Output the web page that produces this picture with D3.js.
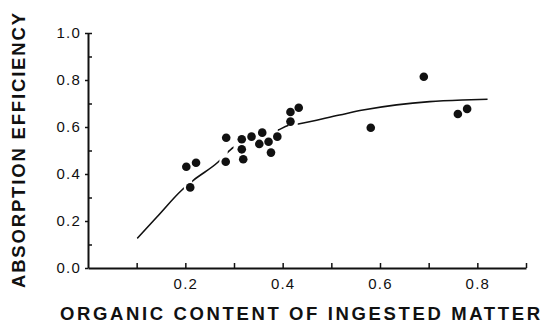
<!DOCTYPE html>
<html>
<head>
<meta charset="utf-8">
<script src="https://cdn.jsdelivr.net/npm/d3@7"></script>
<style>
  body { margin: 0; background: #fff; }
  svg text { font-family: "Liberation Sans", Arial, sans-serif; fill: #111; }
</style>
</head>
<body>
<div id="chart"></div>
<script>
// measured points (organic content, absorption efficiency)
const organic = [0.202, 0.222, 0.210, 0.284, 0.283, 0.316, 0.316, 0.319, 0.336, 0.352, 0.358,
                 0.371, 0.376, 0.389, 0.416, 0.433, 0.416, 0.581, 0.690, 0.760, 0.779]
const efficiency = [0.431, 0.448, 0.343, 0.554, 0.452, 0.548, 0.505, 0.463, 0.559, 0.528, 0.576,
                    0.537, 0.491, 0.559, 0.664, 0.682, 0.623, 0.597, 0.814, 0.655, 0.677]

// fitted curve
const curve_x = [0.101, 0.142, 0.193, 0.217, 0.268, 0.292, 0.391, 0.411, 0.432, 0.517, 0.565, 0.634, 0.702, 0.770, 0.821]
const curve_y = [0.126, 0.218, 0.332, 0.374, 0.452, 0.502, 0.587, 0.606, 0.613, 0.651, 0.672, 0.694, 0.708, 0.715, 0.718]
// parts of the curve that are drawn (it is broken around the dots)
const curve_shown = [[0.100, 0.197], [0.214, 0.270], [0.287, 0.299], [0.390, 0.412], [0.431, 0.825]]

const x_ticks = [0.1, 0.2, 0.3, 0.4, 0.5, 0.6, 0.7, 0.8, 0.9]
const x_labels = [0.2, 0.4, 0.6, 0.8]
const y_major = [0.0, 0.2, 0.4, 0.6, 0.8, 1.0]
const y_minor = [0.1, 0.3, 0.5, 0.7, 0.9, 1.0]

const chart_width = 545
const chart_height = 324
const pad_left = 88, pad_right = 526, pad_top = 33, pad_bottom = 268

var svg = d3.select('#chart')
    .append('svg')
    .attr('width', chart_width)
    .attr('height', chart_height)

var x_scale = d3.scaleLinear().domain([0, 0.9]).range([pad_left, pad_right])
var y_scale = d3.scaleLinear().domain([0, 1]).range([pad_bottom, pad_top])

// x axis
var x_axis = d3.axisBottom(x_scale)
    .tickValues(x_ticks)
    .tickSizeInner(-5)
    .tickSizeOuter(0)
    .tickPadding(10)
    .tickFormat(function(d){
        return x_labels.some(v => Math.abs(v - d) < 1e-9) ? d.toFixed(1) : ''
    })
var gx = svg.append('g')
    .attr('transform', 'translate(0,' + pad_bottom + ')')
    .call(x_axis)
gx.select('.domain').attr('stroke', '#111').attr('stroke-width', 2)
gx.selectAll('.tick line').attr('stroke', '#111').attr('stroke-width', 1.5)
gx.selectAll('text').attr('font-size', 15).attr('letter-spacing', 1.2).attr('fill', '#111')

// y axis, labelled ticks point out
var y_axis = d3.axisLeft(y_scale)
    .tickValues(y_major)
    .tickSizeInner(3)
    .tickSizeOuter(0)
    .tickPadding(4)
    .tickFormat(d3.format('.1f'))
var gy = svg.append('g')
    .attr('transform', 'translate(' + pad_left + ',0)')
    .call(y_axis)
gy.select('.domain').attr('stroke', '#111').attr('stroke-width', 2)
gy.selectAll('.tick line').attr('stroke', '#111').attr('stroke-width', 1.5)
gy.selectAll('text').attr('font-size', 15).attr('letter-spacing', 1.2).attr('fill', '#111')

// minor ticks point in
var gy2 = svg.append('g')
    .attr('transform', 'translate(' + pad_left + ',0)')
    .call(d3.axisRight(y_scale).tickValues(y_minor).tickSize(4).tickFormat(''))
gy2.select('.domain').remove()
gy2.selectAll('.tick line').attr('stroke', '#111').attr('stroke-width', 1.5)

// axis titles
svg.append('text')
    .attr('x', 60)
    .attr('y', 320)
    .attr('font-size', 18.5)
    .attr('font-weight', 'bold')
    .attr('textLength', 480)
    .attr('lengthAdjust', 'spacing')
    .text('ORGANIC  CONTENT  OF  INGESTED  MATTER')

svg.append('text')
    .attr('transform', 'translate(25,288) rotate(-90)')
    .attr('font-size', 18.5)
    .attr('font-weight', 'bold')
    .attr('textLength', 275)
    .attr('lengthAdjust', 'spacing')
    .text('ABSORPTION  EFFICIENCY')

// curve, clipped to the shown parts
var clip = svg.append('clipPath').attr('id', 'curve-clip')
clip.selectAll('rect')
    .data(curve_shown)
    .enter()
    .append('rect')
    .attr('x', d => x_scale(d[0]))
    .attr('width', d => x_scale(d[1]) - x_scale(d[0]))
    .attr('y', 0)
    .attr('height', chart_height)

var line = d3.line()
    .x(i => x_scale(curve_x[i]))
    .y(i => y_scale(curve_y[i]))
    .curve(d3.curveMonotoneX)

svg.append('path')
    .attr('d', line(d3.range(curve_x.length)))
    .attr('clip-path', 'url(#curve-clip)')
    .attr('fill', 'none')
    .attr('stroke', '#111')
    .attr('stroke-width', 1.6)

// points
svg.append('g')
    .selectAll('circle')
    .data(d3.range(organic.length))
    .enter()
    .append('circle')
    .attr('cx', i => x_scale(organic[i]))
    .attr('cy', i => y_scale(efficiency[i]))
    .attr('r', 4.3)
    .attr('fill', '#111')
</script>
</body>
</html>
